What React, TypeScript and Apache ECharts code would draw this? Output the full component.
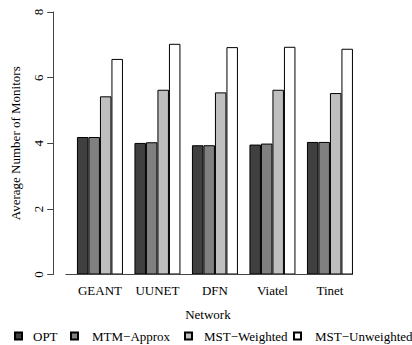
import React, { useEffect, useRef } from "react";
import * as echarts from "echarts";

const categories = ["GEANT", "UUNET", "DFN", "Viatel", "Tinet"];
const seriesNames = ["OPT", "MTM\u2212Approx", "MST\u2212Weighted", "MST\u2212Unweighted"];
const optValues = [4.19, 4.01, 3.94, 3.96, 4.04];
const mtmValues = [4.19, 4.03, 3.94, 3.99, 4.04];
const mstWeightedValues = [5.43, 5.63, 5.55, 5.63, 5.53];
const mstUnweightedValues = [6.57, 7.03, 6.93, 6.94, 6.88];
const yTicks = [0, 2, 4, 6, 8];

const colors = ["#404040", "#808080", "#bfbfbf", "#ffffff"];
const FONT = "'Liberation Serif', 'DejaVu Serif', serif";

export default function App() {
  const ref = useRef<HTMLDivElement>(null);
  useEffect(() => {
    if (!ref.current) return;
    const chart = echarts.init(ref.current, undefined, { renderer: "svg" });
    const values = [optValues, mtmValues, mstWeightedValues, mstUnweightedValues];
    const legendLefts = [14, 70, 184, 293];
    const legendTextPad = [6, 9, 7, 9];
    const gridLeft = 71.2;
    const gridWidth = 287.5;
    const gridTop = 12;
    const gridBottomY = 274.5;
    chart.setOption({
      animation: false,
      textStyle: { fontFamily: FONT, color: "#000" },
      grid: {
        left: gridLeft,
        top: gridTop,
        width: gridWidth,
        height: gridBottomY - gridTop,
        containLabel: false,
      },
      xAxis: {
        type: "category",
        data: categories,
        axisLine: { show: false },
        axisTick: { show: false },
        axisLabel: { color: "#000", fontSize: 13, fontFamily: FONT, margin: 9 },
        name: "Network",
        nameLocation: "middle",
        nameGap: 33,
        nameTextStyle: { color: "#000", fontSize: 13, fontFamily: FONT, padding: [0, 14, 0, 0] },
      },
      yAxis: {
        type: "value",
        min: 0,
        max: 8,
        interval: 2,
        offset: 18,
        splitLine: { show: false },
        axisLine: { show: true, lineStyle: { color: "#444", width: 1 } },
        axisTick: { show: true, length: 6, lineStyle: { color: "#444" } },
        axisLabel: {
          color: "#000",
          fontSize: 13,
          fontFamily: FONT,
          rotate: 90,
          margin: 8,
          formatter: (v: number) => (yTicks.includes(v) ? String(v) : ""),
        },
        name: "Average Number of Monitors",
        nameLocation: "middle",
        nameRotate: 90,
        nameGap: 31,
        nameTextStyle: { color: "#000", fontSize: 13, fontFamily: FONT },
      },
      legend: seriesNames.map((n, i) => ({
        data: [n],
        left: legendLefts[i],
        top: 329,
        icon: "rect",
        itemWidth: 7,
        itemHeight: 7,
        padding: 0,
        textStyle: {
          color: "#000",
          fontSize: 13,
          fontFamily: FONT,
          lineHeight: 14,
          padding: [0, 0, 0, legendTextPad[i]],
        },
      })),
      series: seriesNames.map((n, i) => ({
        name: n,
        type: "bar",
        data: values[i],
        barWidth: 11.5,
        barGap: "0%",
        itemStyle: { color: colors[i], borderColor: "#000", borderWidth: 1 },
      })),
    });
    const y0 = chart.convertToPixel({ yAxisIndex: 0 }, 0) as number;
    const x0 = chart.convertToPixel({ xAxisIndex: 0 }, categories[0]) as number;
    const xN = chart.convertToPixel({ xAxisIndex: 0 }, categories[categories.length - 1]) as number;
    chart.setOption({
      graphic: [
        {
          type: "line",
          shape: { x1: x0 - 23 - 11.5, y1: y0, x2: xN + 23, y2: y0 },
          style: { stroke: "#444", lineWidth: 1 },
          z: 10,
        },
      ],
    });
    return () => chart.dispose();
  }, []);
  return (
    <div
      ref={ref}
      style={{ width: 412, height: 345, position: "absolute", left: 0, top: 0 }}
    />
  );
}
